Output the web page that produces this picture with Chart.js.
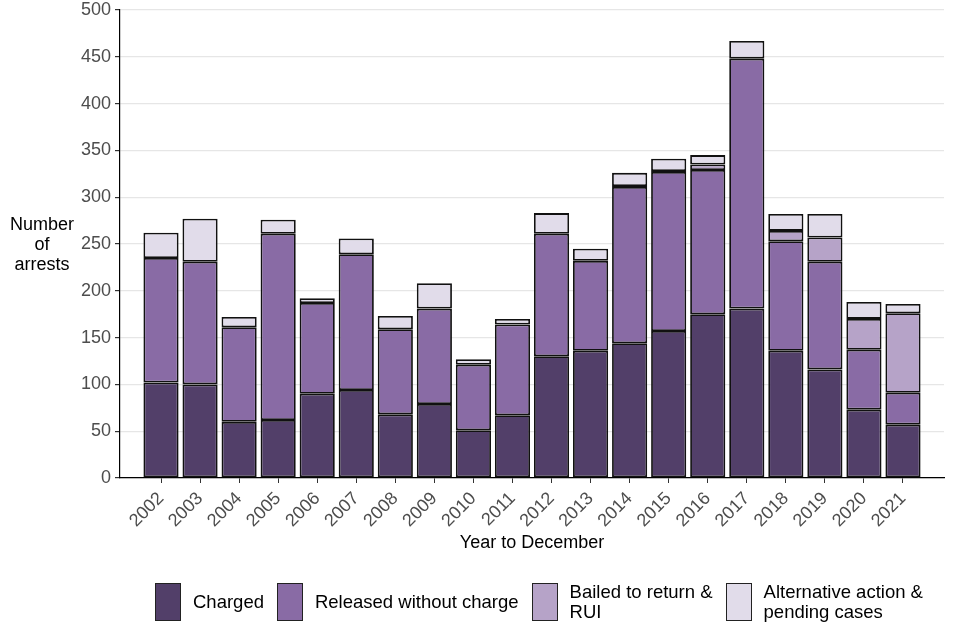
<!DOCTYPE html>
<html>
<head>
<meta charset="utf-8">
<script src="https://cdn.jsdelivr.net/npm/chart.js@4/dist/chart.umd.min.js"></script>
<style>
  body { margin: 0; background: #fff; font-family: "Liberation Sans", Arial, sans-serif; }
  #wrap { position: relative; width: 960px; height: 640px; }
  #legend { position: absolute; top: 582px; left: 155px; display: flex; align-items: center; font-size: 18.5px; color: #000; }
  .item { display: flex; align-items: center; margin-right: 13px; }
  .box { width: 24px; height: 36px; border: 1px solid #222; margin-right: 12px; }
  .lbl { line-height: 20px; }
</style>
</head>
<body>
<div id="wrap">
  <canvas id="c" width="960" height="640"></canvas>
  <div id="legend"></div>
</div>
<script>
/* ── Data ── */
const years = ['2002','2003','2004','2005','2006','2007','2008','2009','2010','2011',
               '2012','2013','2014','2015','2016','2017','2018','2019','2020','2021'];
const charged  = [102,100,60,62,90,94,68,79,51,67,130,136,144,157,175,181,136,116,73,57];
const released = [133,131,101,199,97,145,91,102,70,97,131,96,167,170,154,267,117,115,64,34];
const bailed   = [0,0,0,0,0,0,0,0,0,0,0,0,1,1,6,0,11,26,33,85];
const altPend  = [27,46,11,15,5,17,14,27,6,6,22,13,14,13,10,19,18,25,18,10];
const yTicks   = [0,50,100,150,200,250,300,350,400,450,500];

const series = [
  { label: 'Charged', data: charged, color: '#523f69' },
  { label: 'Released without charge', data: released, color: '#896ba5' },
  { label: 'Bailed to return &\nRUI', data: bailed, color: '#b6a3c8' },
  { label: 'Alternative action &\npending cases', data: altPend, color: '#e1dcea' }
];

const FONT = '"Liberation Sans", Arial, sans-serif';

/* ── Y title, horizontal ── */
const yTitle = {
  id: 'yTitle',
  afterDraw(chart) {
    const c = chart.ctx;
    c.save();
    c.font = '18px ' + FONT;
    c.fillStyle = '#000';
    c.textAlign = 'center';
    c.textBaseline = 'middle';
    ['Number', 'of', 'arrests'].forEach((t, i) => c.fillText(t, 42, 225 + i * 20));
    c.restore();
  }
};

new Chart(document.getElementById('c'), {
  type: 'bar',
  data: {
    datasets: series.map(s => ({
      label: s.label,
      data: s.data.map((v, i) => ({ x: i, y: v === 0 ? null : v })),
      backgroundColor: s.color,
      borderColor: '#111',
      borderWidth: 1.8,
      borderSkipped: false,
      categoryPercentage: 1,
      barPercentage: 0.9
    }))
  },
  options: {
    responsive: false,
    animation: false,
    layout: { padding: { left: 0, right: 16, top: 10, bottom: 85 } },
    plugins: { legend: { display: false }, tooltip: { enabled: false } },
    scales: {
      x: {
        type: 'linear',
        stacked: true,
        offset: false,
        min: -1.05, max: 20.05,
        afterBuildTicks: s => { s.ticks = years.map((_, i) => ({ value: i })); },
        afterFit: s => { s.height = 77; s.paddingLeft = 0; s.paddingRight = 0; },
        ticks: {
          callback: v => years[v] ?? '',
          color: '#4d4d4d',
          font: { family: FONT, size: 18 },
          minRotation: 45, maxRotation: 45,
          padding: 5
        },
        grid: { offset: false, drawOnChartArea: false, tickLength: 5, color: '#333' },
        border: { color: '#000', width: 1.2 },
        title: {
          display: true, text: 'Year to December', color: '#000',
          font: { family: FONT, size: 18 }, padding: { top: 0, bottom: 1 }
        }
      },
      y: {
        stacked: true,
        min: 0, max: 500,
        afterBuildTicks: s => { s.ticks = yTicks.map(v => ({ value: v })); },
        afterFit: s => { s.width = 120; s.paddingTop = 0; s.paddingBottom = 0; },
        ticks: { color: '#4d4d4d', font: { family: FONT, size: 18 }, padding: 4 },
        grid: { color: '#e6e6e6', lineWidth: 1.2, tickLength: 5, tickColor: '#333' },
        border: { color: '#000', width: 1.2 }
      }
    }
  },
  plugins: [yTitle]
});

/* ── Legend ── */
const legend = document.getElementById('legend');
series.forEach(s => {
  const it = document.createElement('div');
  it.className = 'item';
  it.innerHTML = '<div class="box" style="background:' + s.color + '"></div>' +
    '<div class="lbl">' + s.label.replace(/&/g, '&amp;').replace('\n', '<br>') + '</div>';
  legend.appendChild(it);
});
</script>
</body>
</html>
